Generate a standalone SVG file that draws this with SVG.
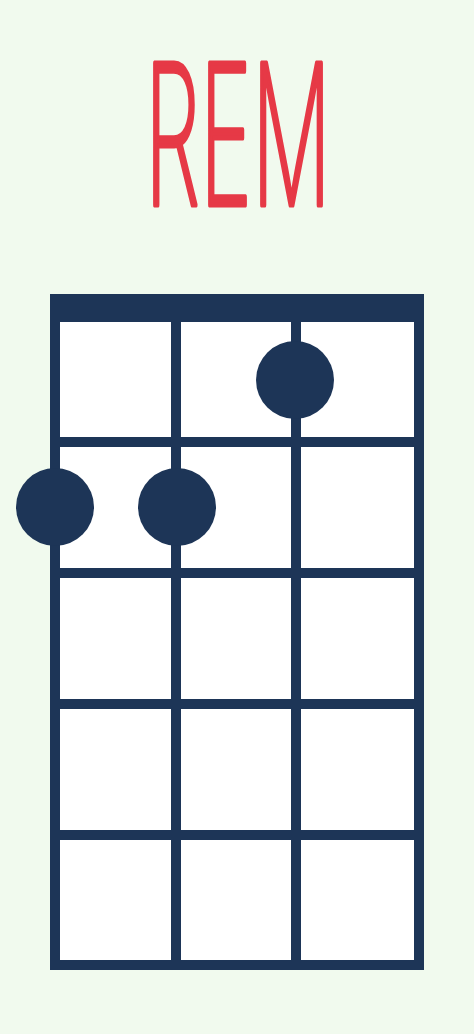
<svg xmlns="http://www.w3.org/2000/svg" width="474" height="1034" viewBox="0 0 474 1034">
  <style>
    .bg { fill: #f1faee; }
    .navy { fill: #1d3557; }
    .line { stroke: #1d3557; stroke-width: 10; }
    .dot { fill: #1d3557; }
    .title { fill: #e63946; stroke: #e63946; stroke-width: 5; stroke-linejoin: round; stroke-linecap: round; font-family: Inter, "Open Sans", "Liberation Sans", sans-serif; font-weight: 200; font-size: 195px; }
  </style>
  <rect class="bg" x="0" y="0" width="474" height="1034"/>
  <g id="title">
    <text class="title" transform="translate(145,205) scale(0.47,1)" x="0" y="0" textLength="396" lengthAdjust="spacingAndGlyphs">REM</text>
  </g>
  <g id="fretboard">
    <rect x="55" y="299" width="364" height="666" fill="#ffffff" stroke="#1d3557" stroke-width="10"/>
    <rect class="navy" x="50" y="294" width="374" height="28"/>
  </g>
  <g id="connectors">
    <line class="line" x1="176" y1="322" x2="176" y2="965"/>
    <line class="line" x1="296" y1="322" x2="296" y2="965"/>
    <line class="line" x1="55" y1="442" x2="419" y2="442"/>
    <line class="line" x1="55" y1="573" x2="419" y2="573"/>
    <line class="line" x1="55" y1="704" x2="419" y2="704"/>
    <line class="line" x1="55" y1="835" x2="419" y2="835"/>
  </g>
  <g id="dot-1"><circle class="dot" cx="55" cy="507" r="39"/></g>
  <g id="dot-2"><circle class="dot" cx="177" cy="507" r="39"/></g>
  <g id="dot-3"><circle class="dot" cx="295" cy="380" r="39"/></g>
</svg>
